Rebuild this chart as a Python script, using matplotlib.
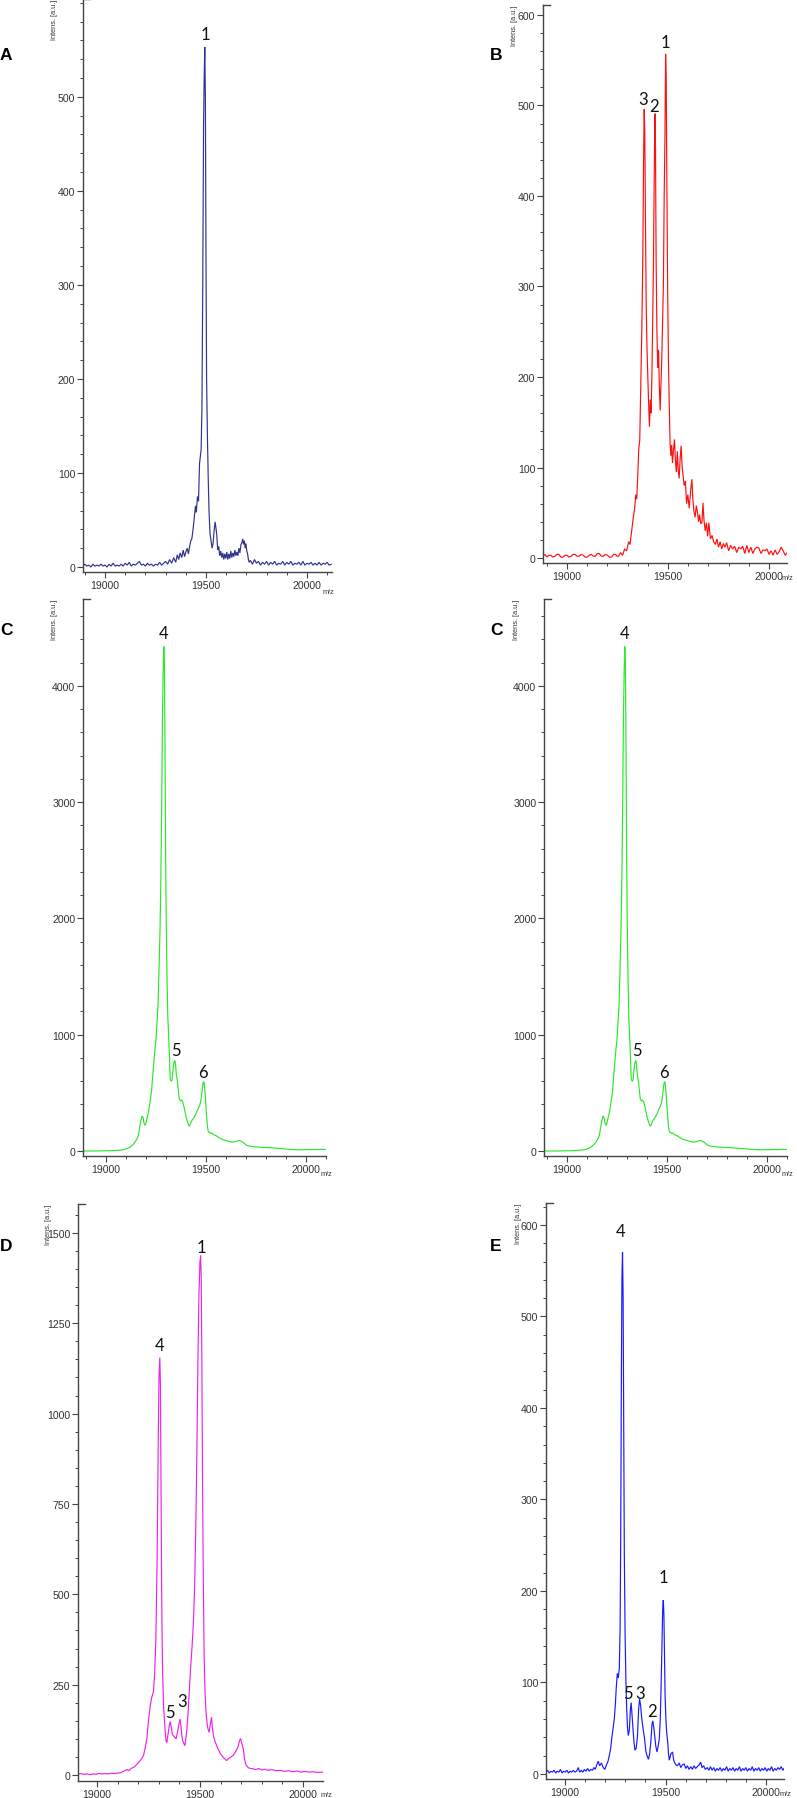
import matplotlib
matplotlib.use("Agg")
import matplotlib.pyplot as plt
from matplotlib.ticker import MultipleLocator, FixedLocator

W, H = 797, 1799
DPI = 100

# ---------------- data (m/z, intensity) ----------------
a_mz = [18890, 18900, 18910, 18920, 18930, 18940, 18950, 18960, 18970, 18980, 18990, 19000, 19010, 19020,
        19030, 19040, 19050, 19060, 19070, 19080, 19090, 19100, 19110, 19120, 19130, 19140, 19150, 19160,
        19170, 19180, 19190, 19200, 19210, 19220, 19230, 19240, 19250, 19260, 19270, 19280, 19290, 19300,
        19310, 19320, 19330, 19340, 19350, 19358, 19365, 19372, 19380, 19387, 19394, 19400, 19407, 19413,
        19419, 19425, 19430, 19437, 19442, 19448, 19452, 19458, 19463, 19468, 19472, 19476, 19480, 19484,
        19488, 19491, 19494, 19497, 19500, 19503, 19507, 19511, 19515, 19520, 19525, 19530, 19535, 19540,
        19545, 19549, 19553, 19558, 19563, 19568, 19573, 19578, 19583, 19588, 19593, 19598, 19603, 19608,
        19613, 19618, 19623, 19628, 19633, 19638, 19643, 19648, 19653, 19658, 19663, 19668, 19673, 19678,
        19682, 19686, 19690, 19694, 19698, 19702, 19706, 19710, 19714, 19720, 19730, 19740, 19750, 19760,
        19770, 19780, 19790, 19800, 19810, 19820, 19830, 19840, 19850, 19860, 19870, 19880, 19890, 19900,
        19910, 19920, 19930, 19940, 19950, 19960, 19970, 19980, 19990, 20000, 20010, 20020, 20030, 20040,
        20050, 20060, 20070, 20080, 20090, 20100, 20110, 20120]
a_int = [1, 3, 1, 2, 0, 3, 1, 2, 1, 3, 1, 2, 0, 3,
         1, 4, 1, 2, 1, 3, 1, 4, 2, 5, 1, 3, 2, 4,
         6, 2, 3, 1, 4, 2, 3, 1, 3, 2, 5, 2, 4, 6,
         3, 8, 4, 10, 5, 13, 8, 15, 10, 18, 11, 16, 20, 14,
         22, 28, 30, 42, 52, 65, 58, 75, 70, 110, 118, 125, 170, 300,
         470, 520, 553, 500, 330, 200, 140, 95, 60, 35, 28, 20, 25, 38,
         48, 42, 35, 18, 22, 12, 17, 10, 15, 8, 14, 9, 16, 8,
         14, 9, 17, 10, 15, 11, 18, 12, 16, 12, 20, 15, 24, 26,
         30, 24, 28, 20, 25, 17, 14, 8, 5, 7, 3, 8, 4, 6,
         2, 5, 3, 6, 2, 5, 3, 6, 2, 4, 3, 6, 2, 5,
         3, 6, 2, 4, 3, 5, 2, 6, 2, 4, 3, 5, 2, 4,
         2, 5, 2, 4, 3, 5, 2, 3]

b_mz = [18880, 18890, 18900, 18910, 18920, 18930, 18940, 18950, 18960, 18970, 18980, 18990, 19000, 19010,
        19020, 19030, 19040, 19050, 19060, 19070, 19080, 19090, 19100, 19110, 19120, 19130, 19140, 19150,
        19160, 19170, 19180, 19190, 19200, 19210, 19220, 19230, 19240, 19248, 19255, 19265, 19275, 19285,
        19295, 19305, 19312, 19320, 19328, 19335, 19340, 19345, 19350, 19355, 19360, 19365, 19370, 19375,
        19379, 19382, 19385, 19388, 19392, 19396, 19400, 19404, 19408, 19412, 19416, 19420, 19424, 19428,
        19432, 19435, 19438, 19441, 19445, 19449, 19453, 19457, 19461, 19465, 19469, 19473, 19477, 19481,
        19485, 19488, 19491, 19494, 19498, 19502, 19506, 19510, 19514, 19518, 19522, 19527, 19532, 19536,
        19541, 19546, 19550, 19555, 19560, 19565, 19570, 19575, 19580, 19586, 19592, 19598, 19605, 19612,
        19618, 19623, 19628, 19634, 19640, 19646, 19651, 19656, 19662, 19668, 19673, 19678, 19684, 19690,
        19696, 19702, 19710, 19718, 19726, 19734, 19742, 19750, 19758, 19766, 19774, 19782, 19790, 19800,
        19810, 19820, 19830, 19840, 19850, 19860, 19870, 19880, 19890, 19900, 19910, 19920, 19930, 19940,
        19950, 19960, 19970, 19980, 19990, 20000, 20010, 20020, 20030, 20040, 20050, 20060, 20070, 20080,
        20090]
b_int = [2, 4, 1, 3, 3, 1, 2, 4, 4, 1, 1, 3, 3, 1,
         2, 4, 4, 2, 2, 4, 3, 1, 1, 3, 4, 2, 2, 5,
         5, 2, 2, 4, 3, 1, 1, 4, 4, 2, 2, 6, 3, 10,
         8, 18, 15, 30, 45, 55, 70, 65, 90, 120, 130, 190, 250, 330,
         440, 496, 470, 380, 280, 230, 200, 170, 145, 175, 160, 200, 260, 330,
         430, 491, 450, 330, 250, 210, 230, 190, 163, 190, 220, 260, 300, 400,
         470, 557, 530, 420, 300, 220, 170, 128, 113, 125, 105, 120, 131, 110,
         95, 118, 98, 88, 110, 124, 100, 90, 80, 85, 60, 70, 55, 75,
         87, 65, 52, 45, 58, 50, 40, 48, 38, 39, 61, 42, 30, 39,
         24, 39, 21, 25, 18, 15, 21, 12, 18, 10, 16, 12, 17, 8,
         14, 10, 13, 6, 12, 10, 13, 5, 14, 6, 12, 5, 10, 12,
         11, 5, 9, 8, 10, 4, 8, 3, 9, 4, 7, 12, 8, 3,
         6]

c_mz = [18885, 18950, 19000, 19030, 19060, 19087, 19105, 19120, 19135, 19145, 19155, 19162, 19168, 19174,
        19180, 19185, 19190, 19195, 19200, 19206, 19212, 19220, 19228, 19235, 19240, 19245, 19250, 19254,
        19260, 19265, 19270, 19274, 19278, 19282, 19286, 19289, 19292, 19295, 19298, 19301, 19305, 19309,
        19313, 19317, 19321, 19326, 19330, 19335, 19340, 19344, 19348, 19352, 19357, 19362, 19366, 19372,
        19378, 19384, 19390, 19396, 19402, 19408, 19413, 19418, 19424, 19430, 19437, 19444, 19450, 19456,
        19462, 19468, 19474, 19478, 19482, 19486, 19489, 19492, 19496, 19500, 19504, 19508, 19512, 19518,
        19524, 19530, 19538, 19546, 19554, 19562, 19570, 19580, 19590, 19600, 19610, 19620, 19630, 19640,
        19650, 19660, 19670, 19680, 19690, 19700, 19710, 19725, 19740, 19760, 19780, 19800, 19820, 19840,
        19860, 19880, 19900, 19920, 19940, 19960, 19980, 20000, 20020, 20040, 20060, 20080, 20100]
c_int = [0, 0, 2, 3, 6, 11, 20, 34, 55, 77, 105, 135, 200, 260,
         300, 290, 240, 220, 240, 290, 330, 420, 520, 680, 780, 880, 960, 1080,
         1250, 1550, 1900, 2300, 2900, 3700, 4150, 4340, 4200, 3500, 2600, 2000, 1500, 1150,
         1000, 820, 620, 600, 610, 700, 760, 780, 740, 650, 600, 520, 450, 430,
         440, 420, 380, 330, 280, 250, 220, 215, 240, 265, 280, 300, 320, 345,
         370, 390, 430, 480, 540, 590, 596, 570, 480, 380, 280, 200, 165, 160,
         150, 155, 140, 135, 128, 118, 110, 100, 95, 90, 85, 80, 76, 78,
         82, 88, 90, 80, 70, 52, 45, 40, 36, 34, 32, 30, 28, 26,
         24, 20, 17, 14, 12, 11, 10, 12, 11, 13, 12, 14, 13]

d_mz = [18908, 18920, 18935, 18950, 18965, 18980, 18995, 19010, 19025, 19040, 19055, 19070, 19085, 19100,
        19113, 19125, 19135, 19145, 19155, 19165, 19177, 19186, 19194, 19202, 19210, 19218, 19226, 19234,
        19242, 19250, 19258, 19266, 19274, 19280, 19286, 19292, 19297, 19301, 19305, 19308, 19311, 19314,
        19318, 19323, 19330, 19335, 19339, 19343, 19347, 19352, 19356, 19361, 19366, 19371, 19378, 19384,
        19390, 19396, 19403, 19408, 19412, 19416, 19421, 19427, 19435, 19442, 19448, 19455, 19462, 19468,
        19474, 19480, 19485, 19490, 19495, 19500, 19503, 19506, 19509, 19512, 19516, 19520, 19525, 19530,
        19535, 19540, 19545, 19550, 19556, 19560, 19565, 19572, 19581, 19590, 19600, 19613, 19620, 19629,
        19640, 19650, 19661, 19670, 19680, 19686, 19692, 19697, 19703, 19710, 19716, 19722, 19726, 19735,
        19745, 19758, 19770, 19785, 19800, 19815, 19830, 19850, 19870, 19890, 19910, 19930, 19950, 19970,
        19990, 20010, 20030, 20050, 20070, 20095]
d_int = [2, 4, 2, 3, 1, 3, 2, 4, 3, 4, 3, 5, 4, 5,
         6, 9, 12, 15, 12, 18, 21, 25, 30, 35, 40, 46, 54, 75,
         100, 150, 190, 215, 230, 280, 380, 600, 900, 1100, 1155, 1080, 800, 500,
         300, 192, 130, 95, 90, 105, 118, 140, 148, 130, 112, 109, 104, 100,
         115, 135, 155, 135, 109, 95, 88, 81, 118, 170, 230, 300, 360, 420,
         520, 700, 900, 1150, 1330, 1420, 1437, 1380, 1150, 850, 550, 330, 220, 170,
         140, 125, 118, 140, 160, 130, 109, 95, 81, 70, 58, 49, 45, 40,
         46, 50, 54, 62, 72, 81, 95, 101, 88, 72, 45, 30, 26, 20,
         18, 17, 15, 18, 14, 16, 13, 15, 12, 13, 10, 12, 9, 11,
         8, 10, 8, 9, 7, 8]

e_mz = [18905, 18913, 18921, 18929, 18937, 18945, 18953, 18961, 18969, 18977, 18985, 18993, 19001, 19009,
        19017, 19025, 19033, 19041, 19049, 19057, 19066, 19072, 19080, 19088, 19096, 19104, 19112, 19120,
        19128, 19136, 19144, 19150, 19158, 19165, 19172, 19181, 19190, 19198, 19206, 19214, 19222, 19227,
        19233, 19239, 19245, 19250, 19255, 19260, 19265, 19270, 19274, 19277, 19280, 19283, 19286, 19289,
        19292, 19295, 19299, 19303, 19307, 19311, 19315, 19320, 19325, 19329, 19333, 19338, 19343, 19348,
        19354, 19360, 19366, 19371, 19376, 19382, 19388, 19395, 19402, 19408, 19415, 19421, 19427, 19433,
        19437, 19442, 19447, 19452, 19458, 19463, 19469, 19474, 19478, 19482, 19486, 19489, 19492, 19495,
        19498, 19502, 19506, 19511, 19515, 19519, 19527, 19535, 19540, 19544, 19552, 19560, 19568, 19576,
        19584, 19593, 19601, 19609, 19617, 19626, 19634, 19642, 19650, 19658, 19668, 19675, 19682, 19690,
        19698, 19708, 19716, 19724, 19732, 19740, 19748, 19756, 19764, 19772, 19780, 19788, 19796, 19804,
        19812, 19820, 19828, 19836, 19844, 19852, 19860, 19868, 19876, 19884, 19892, 19900, 19908, 19916,
        19924, 19932, 19940, 19948, 19956, 19964, 19972, 19980, 19988, 19996, 20004, 20012, 20020, 20028,
        20036, 20044, 20052, 20060, 20068, 20076, 20084, 20090]
e_int = [2, 4, 1, 3, 2, 4, 1, 3, 2, 5, 1, 3, 2, 4,
         1, 3, 2, 4, 2, 3, 7, 2, 4, 2, 5, 3, 6, 3,
         5, 4, 7, 5, 10, 14, 9, 12, 7, 5, 10, 14, 22, 28,
         40, 50, 60, 75, 95, 110, 105, 115, 160, 260, 420, 540, 570, 520,
         380, 240, 150, 100, 70, 50, 42, 48, 70, 78, 65, 50, 35, 26,
         28, 40, 70, 82, 75, 60, 50, 40, 25, 20, 16, 22, 35, 55,
         58, 50, 40, 30, 24, 30, 38, 60, 95, 140, 180, 190, 175, 130,
         85, 60, 45, 35, 22, 15, 22, 24, 16, 13, 10, 9, 12, 7,
         10, 11, 6, 9, 5, 8, 5, 9, 6, 8, 10, 13, 7, 9,
         5, 7, 4, 8, 4, 7, 3, 6, 4, 7, 3, 6, 4, 8,
         3, 6, 4, 7, 3, 6, 4, 8, 3, 6, 4, 7, 3, 6,
         4, 8, 3, 6, 4, 7, 3, 6, 4, 7, 3, 6, 4, 8,
         3, 6, 4, 7, 5, 8, 4, 6]

# peak annotations: (label, m/z, intensity position of label centre)
a_labels = [("1", 19495, 567)]
b_labels = [("3", 19378, 507), ("2", 19431, 499), ("1", 19489, 570)]
c_labels = [("4", 19287, 4456), ("5", 19350, 871), ("6", 19487, 682)]
d_labels = [("4", 19306, 1190), ("5", 19354, 173), ("3", 19411, 206), ("1", 19506, 1460)]
e_labels = [("4", 19277, 593), ("5", 19315, 88), ("3", 19372, 88), ("2", 19432, 69), ("1", 19490, 215)]

# ---------------- figure ----------------
fig = plt.figure(figsize=(W / DPI, H / DPI), dpi=DPI)
fig.patch.set_facecolor("white")

AX_COL = "#444444"
TXT_COL = "#333333"


def make_panel(x0, x1, ytop, ybot, xlim, ylim, ymaj, ymin_step, mz, inten, color, labels, letter,
               letter_xy, ymaj_max=None, mz_dx=-4, mz_dy=19, ylab_dx=28):
    ax = fig.add_axes([x0 / W, 1 - ybot / H, (x1 - x0) / W, (ybot - ytop) / H])
    ax.plot(mz, inten, color=color, lw=0.85, solid_joinstyle="miter")
    ax.set_xlim(*xlim)
    ax.set_ylim(*ylim)
    for s in ("top", "right"):
        ax.spines[s].set_visible(False)
    for s in ("left", "bottom"):
        ax.spines[s].set_color(AX_COL)
        ax.spines[s].set_linewidth(1.0)
    ax.xaxis.set_major_locator(FixedLocator([19000, 19500, 20000]))
    ax.xaxis.set_minor_locator(MultipleLocator(100))
    top = ymaj_max if ymaj_max is not None else ylim[1]
    majors = [v for v in range(0, int(top) + 1, ymaj)]
    ax.yaxis.set_major_locator(FixedLocator(majors))
    ax.yaxis.set_minor_locator(MultipleLocator(ymin_step))
    ax.tick_params(which="major", direction="out", length=4, width=0.8, color=AX_COL,
                   labelsize=7.6, labelcolor=TXT_COL, pad=1.5)
    ax.tick_params(which="minor", direction="out", length=2.5, width=0.7, color=AX_COL)
    for t in ax.get_xticklabels() + ax.get_yticklabels():
        t.set_family(["Liberation Sans", "DejaVu Sans"])
    wpx = x1 - x0
    hpx = ybot - ytop
    # small horizontal cap on top of y axis
    ax.plot([0, 7 / wpx], [1, 1], transform=ax.transAxes, color=AX_COL, lw=1.0, clip_on=False)
    # y label
    ax.text(-ylab_dx / wpx, 1.0, "Intens. [a.u.]", transform=ax.transAxes, rotation=90,
            ha="center", va="top", fontsize=5.3, color=TXT_COL,
            family=["Liberation Sans", "DejaVu Sans"])
    # m/z label
    ax.text(1 + mz_dx / wpx, -mz_dy / hpx, "m/z", transform=ax.transAxes, ha="center", va="center",
            fontsize=5.3, color=TXT_COL, family=["Liberation Sans", "DejaVu Sans"])
    for s, xv, yv in labels:
        ax.text(xv, yv, s, ha="center", va="center", fontsize=12, color="#111111",
                family=["Lato", "DejaVu Sans"], clip_on=False)
    fig.text(letter_xy[0] / W, 1 - letter_xy[1] / H, letter, ha="left", va="center",
             fontsize=12.5, fontweight="bold", color="black",
             family=["Liberation Sans", "DejaVu Sans"])
    return ax


make_panel(83, 332, 0, 573, (18891, 20124), (-5.3, 604), 100, 20, a_mz, a_int, "#31318f",
           a_labels, "A", (0, 55), ymaj_max=500)
make_panel(543, 787, 6, 564, (18881, 20089), (-5.5, 611), 100, 20, b_mz, b_int, "#ff1010",
           b_labels, "B", (490, 55), mz_dx=0, mz_dy=15)
make_panel(83, 326, 600, 1157, (18885, 20100), (-43, 4748), 1000, 200, c_mz, c_int, "#2de62d",
           c_labels, "C", (0, 631), mz_dx=0, mz_dy=17)
make_panel(544, 787, 600, 1157, (18885, 20100), (-43, 4748), 1000, 200, c_mz, c_int, "#2de62d",
           c_labels, "C", (490, 631), mz_dx=0, mz_dy=17)
make_panel(78, 323, 1205, 1782, (18908, 20097), (-16.6, 1580), 250, 50, d_mz, d_int, "#ee22ee",
           d_labels, "D", (0, 1247), mz_dx=3, mz_dy=14, ylab_dx=29)
make_panel(546, 784, 1204, 1780, (18905, 20090), (-5.5, 624), 100, 20, e_mz, e_int, "#1a1aff",
           e_labels, "E", (490, 1247), mz_dx=1, mz_dy=15)

fig.savefig("out.png", dpi=DPI, facecolor="white")
